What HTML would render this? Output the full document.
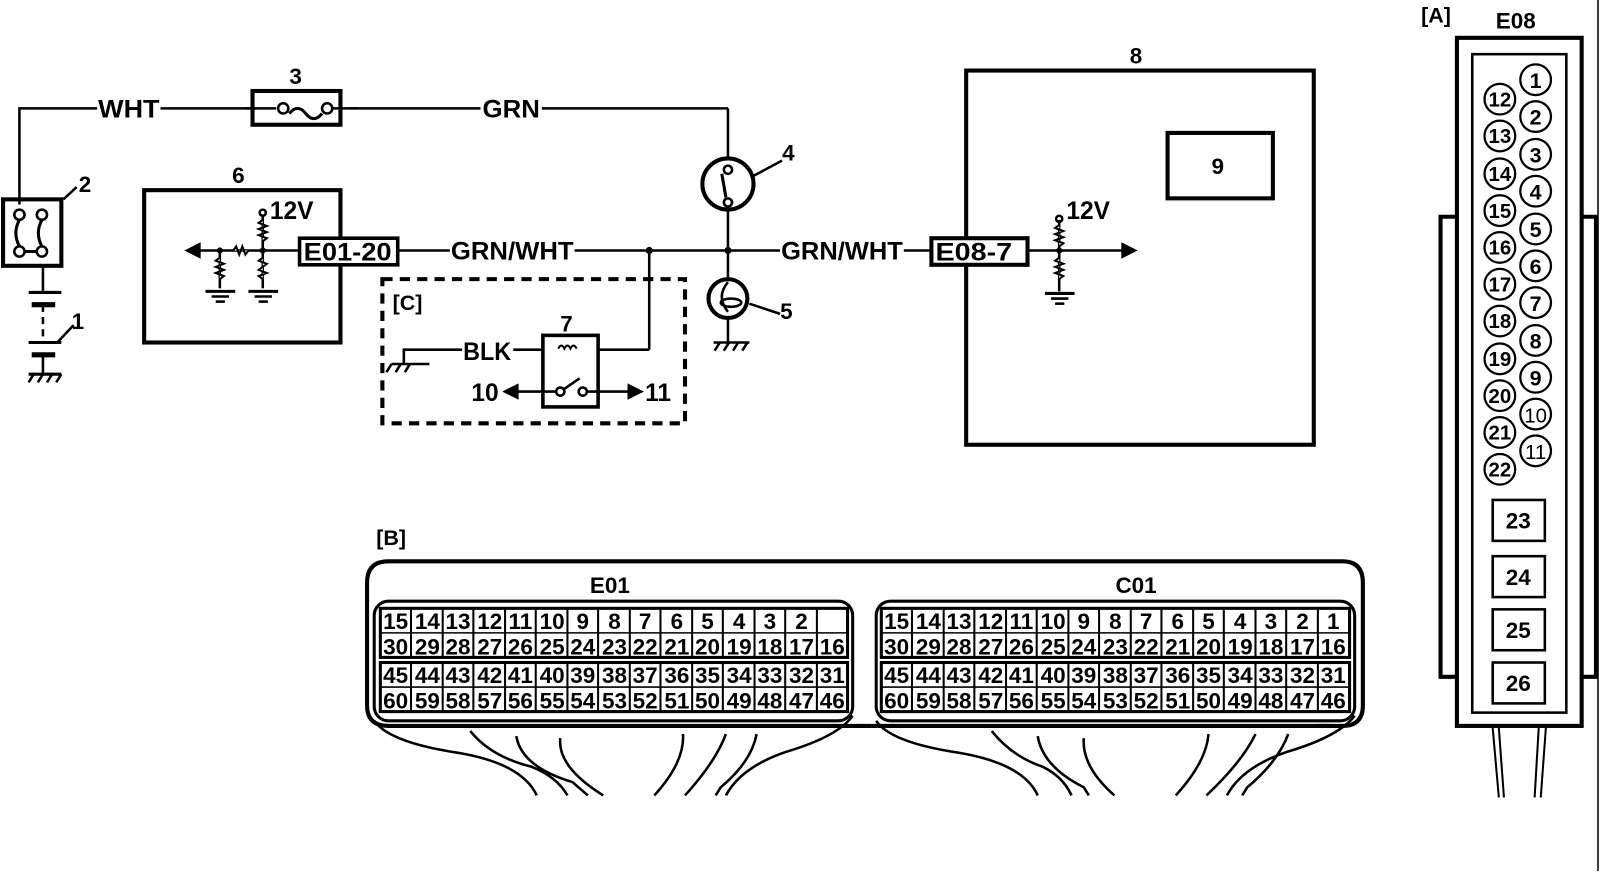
<!DOCTYPE html>
<html><head><meta charset="utf-8"><style>
html,body{margin:0;padding:0;background:#fff;}
svg{display:block;}
text{font-family:"Liberation Sans",sans-serif;font-weight:bold;fill:#000;}
</style></head><body>
<svg width="1600" height="872" viewBox="0 0 1600 872" xmlns="http://www.w3.org/2000/svg">
<g transform="scale(1.0224)">
<g fill="none" stroke="#000" stroke-width="2.5">
<!-- top wire -->
<polyline points="19,200 19,106 95,106"/>
<line x1="157" y1="106" x2="250" y2="106"/>
<line x1="342" y1="106" x2="470" y2="106"/>
<line x1="530" y1="106" x2="712" y2="106"/>
<line x1="712" y1="106" x2="712" y2="155"/>
<rect x="247" y="89" width="86" height="33" stroke-width="4"/>
<line x1="240" y1="106" x2="270" y2="106"/><line x1="322" y1="106" x2="350" y2="106"/>
<!-- item 2 -->
<rect x="3" y="195" width="57" height="65" stroke-width="4"/>
<circle cx="19" cy="210" r="5"/><circle cx="41" cy="210" r="5"/>
<circle cx="19" cy="246" r="5"/><circle cx="41" cy="246" r="5"/>
<path d="M19,215 Q12,228 19,241 M41,215 Q34,228 41,241 M24,246 L36,246" stroke-width="3"/>
<line x1="42" y1="260" x2="42" y2="286"/>
<line x1="28" y1="286" x2="60" y2="286" stroke-width="3"/>
<line x1="31" y1="298" x2="54" y2="298" stroke-width="5"/>
<line x1="42" y1="298" x2="42" y2="335" stroke-dasharray="7,5"/>
<line x1="28" y1="335" x2="60" y2="335" stroke-width="3"/>
<line x1="31" y1="347" x2="54" y2="347" stroke-width="5"/>
<line x1="42" y1="347" x2="42" y2="366"/>
<line x1="28" y1="366" x2="60" y2="366" stroke-width="3"/>
<path d="M33,366 l-5,8 M42,366 l-5,8 M51,366 l-5,8 M60,366 l-5,8"/>
<line x1="56" y1="335" x2="72" y2="318"/>
<line x1="62" y1="195" x2="75" y2="183"/>
<!-- box 6 -->
<rect x="141" y="186" width="192" height="149" stroke-width="4"/>
<line x1="188" y1="245" x2="293" y2="245"/>
<path d="M183,245 l12,-6 l0,12 z" fill="#000"/>
<line x1="215" y1="245" x2="215" y2="282"/>
<line x1="257" y1="245" x2="257" y2="210"/>
<line x1="257" y1="245" x2="257" y2="282"/>
<circle cx="257" cy="208" r="3"/>
<line x1="201" y1="285" x2="230" y2="285" stroke-width="3"/><line x1="207" y1="290" x2="224" y2="290"/><line x1="211" y1="295" x2="220" y2="295"/>
<line x1="243" y1="285" x2="272" y2="285" stroke-width="3"/><line x1="249" y1="290" x2="266" y2="290"/><line x1="253" y1="295" x2="262" y2="295"/>
<rect x="293" y="233" width="96" height="26" fill="#fff" stroke-width="3.5"/>
<!-- main wire -->
<line x1="389" y1="245" x2="440" y2="245"/>
<line x1="562" y1="245" x2="763" y2="245"/>
<line x1="884" y1="245" x2="910" y2="245"/>
<line x1="635" y1="245" x2="635" y2="342"/>
<line x1="585" y1="342" x2="635" y2="342"/>
<!-- C box -->
<rect x="374" y="273" width="296" height="141" stroke-dasharray="10,7" stroke-width="4"/>
<rect x="531" y="328" width="54" height="70" stroke-width="3.5"/>
<polyline points="395,356 395,342 452,342"/>
<line x1="502" y1="342" x2="531" y2="342"/>
<path d="M383,356 l-5,8 M392,356 l-5,8 M401,356 l-5,8 M383,356 L420,356"/>
<path d="M498,383 L544,383 M574,383 L615,383"/>
<path d="M494,383 l12,-6 l0,12 z M627,383 l-12,-6 l0,12 z" fill="#000"/>
<circle cx="548" cy="383" r="4"/><circle cx="570" cy="383" r="4"/>
<line x1="551" y1="381" x2="567" y2="370"/>
<!-- lamp 4 -->
<circle cx="712" cy="180" r="25" stroke-width="4"/>
<circle cx="712" cy="166" r="4"/><circle cx="712" cy="198" r="4"/>
<line x1="706" y1="170" x2="710" y2="193" stroke-width="3"/>
<line x1="712" y1="205" x2="712" y2="245"/>
<line x1="737" y1="172" x2="765" y2="157"/>
<!-- 5 -->
<circle cx="712" cy="292" r="19" stroke-width="4"/>
<line x1="712" y1="245" x2="712" y2="275"/>
<ellipse cx="715" cy="296" rx="10" ry="4"/>
<path d="M712,276 Q700,290 712,305"/>
<line x1="712" y1="311" x2="712" y2="335"/>
<path d="M698,335 L733,335 M704,335 l-5,8 M713,335 l-5,8 M722,335 l-5,8 M731,335 l-5,8"/>
<line x1="733" y1="297" x2="763" y2="307"/>
<!-- box 8 -->
<rect x="945" y="69" width="340" height="366" stroke-width="4"/>
<rect x="1142" y="130" width="103" height="64" stroke-width="4"/>
<rect x="911" y="233" width="94" height="26" fill="#fff" stroke-width="4"/>
<line x1="1005" y1="245" x2="1098" y2="245"/>
<path d="M1110,245 l-12,-6 l0,12 z" fill="#000"/>
<line x1="1036" y1="215" x2="1036" y2="285"/>
<circle cx="1036" cy="214" r="3"/>
<line x1="1022" y1="287" x2="1051" y2="287" stroke-width="3"/><line x1="1028" y1="292" x2="1045" y2="292"/><line x1="1032" y1="297" x2="1041" y2="297"/>
<!-- zigzags -->
<path d="M257,215 l-4,3 l8,3 l-8,3 l8,3 l-8,3 l8,3 l-4,3 M257,252 l-4,3 l8,3 l-4,3 l-4,3 l8,3 l-8,3 l4,3 M215,252 l-4,3 l8,3 l-8,3 l8,3 l-8,3 l8,3 l-4,3 M228,245 l3,-4 l3,8 l3,-8 l3,8 l3,-4 M1036,220 l-4,3 l8,3 l-8,3 l8,3 l-8,3 l8,3 l-4,3 M1036,252 l-4,3 l8,3 l-8,3 l8,3 l-8,3 l8,3 l-4,3" fill="#fff" stroke-width="2"/>
<path d="M546,341 q3,-6 6,0 q3,-6 6,0 q3,-6 6,0" stroke-width="2"/>
<path d="M283,111 q8,-10 16,0 q8,10 16,0" stroke-width="3"/>
<circle cx="277" cy="106" r="5" fill="#fff"/><circle cx="320" cy="106" r="5" fill="#fff"/>

<!-- Connector B -->
<path d="M380,549 L1313,549 Q1333,549 1333,570 L1333,690 Q1333,710 1313,710 L1290,710 M380,549 Q359,549 359,570 L359,690 Q359,710 380,710 L840,710 L852,710" stroke-width="4"/>
<line x1="852" y1="710" x2="1300" y2="710" stroke-width="4"/>
<rect x="366" y="588" width="468" height="117" rx="14" stroke-width="3"/>
<rect x="857" y="588" width="468" height="117" rx="14" stroke-width="3"/>
<rect x="372" y="595" width="457" height="48" stroke-width="3"/>
<rect x="372" y="648" width="457" height="48" stroke-width="3"/>
<rect x="862" y="595" width="458" height="48" stroke-width="3"/>
<rect x="862" y="648" width="458" height="48" stroke-width="3"/>
<line x1="372" y1="619" x2="829" y2="619" stroke-width="1.5"/><line x1="372" y1="672" x2="829" y2="672" stroke-width="1.5"/>
<line x1="862" y1="619" x2="1320" y2="619" stroke-width="1.5"/><line x1="862" y1="672" x2="1320" y2="672" stroke-width="1.5"/>
<path stroke-width="2" d="M402,595v48M433,595v48M463,595v48M494,595v48M524,595v48M555,595v48M585,595v48M616,595v48M646,595v48M677,595v48M707,595v48M738,595v48M768,595v48M799,595v48
M402,648v48M433,648v48M463,648v48M494,648v48M524,648v48M555,648v48M585,648v48M616,648v48M646,648v48M677,648v48M707,648v48M738,648v48M768,648v48M799,648v48
M892,595v48M923,595v48M953,595v48M984,595v48M1014,595v48M1045,595v48M1075,595v48M1106,595v48M1136,595v48M1167,595v48M1197,595v48M1228,595v48M1258,595v48M1289,595v48
M892,648v48M923,648v48M953,648v48M984,648v48M1014,648v48M1045,648v48M1075,648v48M1106,648v48M1136,648v48M1167,648v48M1197,648v48M1228,648v48M1258,648v48M1289,648v48"/>
<path stroke-width="2.5" d="M366,705 Q380,725 440,735 Q510,745 525,778 M460,715 Q480,740 520,750 Q545,760 555,778 M505,720 Q510,750 560,765 L575,778 M548,722 Q545,750 590,778 M668,718 Q670,745 640,778 M710,718 Q700,745 670,778 M740,718 Q735,745 705,770 L700,778 M834,700 Q820,720 770,735 Q725,750 710,778
M857,705 Q870,725 930,735 Q1000,745 1015,778 M970,715 Q990,740 1020,750 Q1040,760 1048,778 M1015,720 Q1020,750 1060,770 L1065,778 M1060,722 Q1058,750 1090,778 M1182,718 Q1180,745 1150,778 M1228,718 Q1215,745 1180,778 M1260,718 Q1250,745 1220,770 L1215,778 M1325,700 Q1310,720 1260,735 Q1215,750 1200,778"/>

<!-- E08 connector -->
<rect x="1425" y="37" width="122" height="673" stroke-width="4"/>
<rect x="1440" y="53" width="92" height="644" stroke-width="2.5"/>
<polyline points="1425,212 1409,212 1409,662 1425,662" stroke-width="4"/>
<polyline points="1547,212 1561,212 1561,662 1547,662" stroke-width="4"/>
<line x1="1563" y1="0" x2="1563" y2="852" stroke-width="1.5"/>
<path stroke-width="2" d="M1460,712 L1466,780 M1466,712 L1471,780 M1512,712 L1507,780 M1505,712 L1501,780"/>
<g stroke-width="2.2">
<circle cx="1502" cy="78" r="15"/><circle cx="1502" cy="114" r="15"/><circle cx="1502" cy="151" r="15"/><circle cx="1502" cy="187" r="15"/><circle cx="1502" cy="224" r="15"/><circle cx="1502" cy="260" r="15"/><circle cx="1502" cy="296" r="15"/><circle cx="1502" cy="333" r="15"/><circle cx="1502" cy="369" r="15"/><circle cx="1502" cy="405" r="15"/><circle cx="1502" cy="441" r="15"/>
<circle cx="1467" cy="97" r="15"/><circle cx="1467" cy="133" r="15"/><circle cx="1467" cy="170" r="15"/><circle cx="1467" cy="206" r="15"/><circle cx="1467" cy="242" r="15"/><circle cx="1467" cy="278" r="15"/><circle cx="1467" cy="314" r="15"/><circle cx="1467" cy="351" r="15"/><circle cx="1467" cy="387" r="15"/><circle cx="1467" cy="423" r="15"/><circle cx="1467" cy="459" r="15"/>
</g>
<rect x="1460" y="489" width="51" height="40" stroke-width="2.5"/>
<rect x="1460" y="544" width="51" height="40" stroke-width="2.5"/>
<rect x="1460" y="596" width="51" height="40" stroke-width="2.5"/>
<rect x="1460" y="648" width="51" height="40" stroke-width="2.5"/>
</g>
<g fill="#000">
<circle cx="635" cy="245" r="3.5"/><circle cx="712" cy="245" r="3.5"/><circle cx="215" cy="245" r="3"/><circle cx="257" cy="245" r="3"/><circle cx="1036" cy="245" r="3"/>
</g>

<g font-size="24" font-weight="normal" style="font-weight:normal">
<text x="96" y="115" textLength="60" lengthAdjust="spacingAndGlyphs">WHT</text>
<text x="472" y="115" textLength="56" lengthAdjust="spacingAndGlyphs">GRN</text>
<text x="441" y="254" textLength="120" lengthAdjust="spacingAndGlyphs">GRN/WHT</text>
<text x="764" y="254" textLength="119" lengthAdjust="spacingAndGlyphs">GRN/WHT</text>
<text x="297" y="255" textLength="86" lengthAdjust="spacingAndGlyphs">E01-20</text>
<text x="915" y="255" textLength="75" lengthAdjust="spacingAndGlyphs">E08-7</text>
<text x="453" y="352" textLength="47" lengthAdjust="spacingAndGlyphs">BLK</text>
<text x="461" y="392">10</text>
<text x="631" y="392">11</text>
<text x="264" y="214">12V</text>
<text x="1043" y="214">12V</text>
<text x="283" y="82" font-size="22">3</text>
<text x="77" y="188" font-size="22">2</text>
<text x="70" y="322" font-size="22">1</text>
<text x="227" y="179" font-size="22">6</text>
<text x="548" y="324" font-size="22">7</text>
<text x="765" y="157" font-size="22">4</text>
<text x="763" y="312" font-size="22">5</text>
<text x="1105" y="62" font-size="22">8</text>
<text x="1185" y="170" font-size="22">9</text>
<text x="384" y="303" font-size="21">[C]</text>
<text x="368" y="533" font-size="21">[B]</text>
<text x="1390" y="22" font-size="21">[A]</text>
<text x="1463" y="28" font-size="22">E08</text>
<text x="577" y="580" font-size="22">E01</text>
<text x="1091" y="580" font-size="22">C01</text>
</g>

<g font-size="22" font-weight="normal" style="font-weight:normal" text-anchor="middle">
<text y="615"><tspan x="387">15</tspan><tspan x="418">14</tspan><tspan x="448">13</tspan><tspan x="479">12</tspan><tspan x="509">11</tspan><tspan x="540">10</tspan><tspan x="570">9</tspan><tspan x="601">8</tspan><tspan x="631">7</tspan><tspan x="662">6</tspan><tspan x="692">5</tspan><tspan x="723">4</tspan><tspan x="753">3</tspan><tspan x="784">2</tspan></text>
<text y="640"><tspan x="387">30</tspan><tspan x="418">29</tspan><tspan x="448">28</tspan><tspan x="479">27</tspan><tspan x="509">26</tspan><tspan x="540">25</tspan><tspan x="570">24</tspan><tspan x="601">23</tspan><tspan x="631">22</tspan><tspan x="662">21</tspan><tspan x="692">20</tspan><tspan x="723">19</tspan><tspan x="753">18</tspan><tspan x="784">17</tspan><tspan x="814">16</tspan></text>
<text y="668"><tspan x="387">45</tspan><tspan x="418">44</tspan><tspan x="448">43</tspan><tspan x="479">42</tspan><tspan x="509">41</tspan><tspan x="540">40</tspan><tspan x="570">39</tspan><tspan x="601">38</tspan><tspan x="631">37</tspan><tspan x="662">36</tspan><tspan x="692">35</tspan><tspan x="723">34</tspan><tspan x="753">33</tspan><tspan x="784">32</tspan><tspan x="814">31</tspan></text>
<text y="693"><tspan x="387">60</tspan><tspan x="418">59</tspan><tspan x="448">58</tspan><tspan x="479">57</tspan><tspan x="509">56</tspan><tspan x="540">55</tspan><tspan x="570">54</tspan><tspan x="601">53</tspan><tspan x="631">52</tspan><tspan x="662">51</tspan><tspan x="692">50</tspan><tspan x="723">49</tspan><tspan x="753">48</tspan><tspan x="784">47</tspan><tspan x="814">46</tspan></text>
<text y="615"><tspan x="877">15</tspan><tspan x="908">14</tspan><tspan x="938">13</tspan><tspan x="969">12</tspan><tspan x="999">11</tspan><tspan x="1030">10</tspan><tspan x="1060">9</tspan><tspan x="1091">8</tspan><tspan x="1121">7</tspan><tspan x="1152">6</tspan><tspan x="1182">5</tspan><tspan x="1213">4</tspan><tspan x="1243">3</tspan><tspan x="1274">2</tspan><tspan x="1304">1</tspan></text>
<text y="640"><tspan x="877">30</tspan><tspan x="908">29</tspan><tspan x="938">28</tspan><tspan x="969">27</tspan><tspan x="999">26</tspan><tspan x="1030">25</tspan><tspan x="1060">24</tspan><tspan x="1091">23</tspan><tspan x="1121">22</tspan><tspan x="1152">21</tspan><tspan x="1182">20</tspan><tspan x="1213">19</tspan><tspan x="1243">18</tspan><tspan x="1274">17</tspan><tspan x="1304">16</tspan></text>
<text y="668"><tspan x="877">45</tspan><tspan x="908">44</tspan><tspan x="938">43</tspan><tspan x="969">42</tspan><tspan x="999">41</tspan><tspan x="1030">40</tspan><tspan x="1060">39</tspan><tspan x="1091">38</tspan><tspan x="1121">37</tspan><tspan x="1152">36</tspan><tspan x="1182">35</tspan><tspan x="1213">34</tspan><tspan x="1243">33</tspan><tspan x="1274">32</tspan><tspan x="1304">31</tspan></text>
<text y="693"><tspan x="877">60</tspan><tspan x="908">59</tspan><tspan x="938">58</tspan><tspan x="969">57</tspan><tspan x="999">56</tspan><tspan x="1030">55</tspan><tspan x="1060">54</tspan><tspan x="1091">53</tspan><tspan x="1121">52</tspan><tspan x="1152">51</tspan><tspan x="1182">50</tspan><tspan x="1213">49</tspan><tspan x="1243">48</tspan><tspan x="1274">47</tspan><tspan x="1304">46</tspan></text>
</g>

<g font-size="21" text-anchor="middle">
<text x="1502" y="86">1</text><text x="1502" y="122">2</text><text x="1502" y="159">3</text><text x="1502" y="195">4</text><text x="1502" y="232">5</text><text x="1502" y="268">6</text><text x="1502" y="304">7</text><text x="1502" y="341">8</text><text x="1502" y="377">9</text><text x="1502" y="413" font-size="20" font-weight="normal" style="font-weight:normal">10</text><text x="1502" y="449" font-size="20" font-weight="normal" style="font-weight:normal">11</text>
<g font-size="20" font-weight="normal" style="font-weight:normal">
<text x="1467" y="104">12</text><text x="1467" y="140">13</text><text x="1467" y="177">14</text><text x="1467" y="213">15</text><text x="1467" y="249">16</text><text x="1467" y="285">17</text><text x="1467" y="321">18</text><text x="1467" y="358">19</text><text x="1467" y="394">20</text><text x="1467" y="430">21</text><text x="1467" y="466">22</text>
</g>
<text x="1485" y="517" font-size="22">23</text><text x="1485" y="572" font-size="22">24</text><text x="1485" y="624" font-size="22">25</text><text x="1485" y="676" font-size="22">26</text>
</g>
</g>
</svg>
</body></html>
